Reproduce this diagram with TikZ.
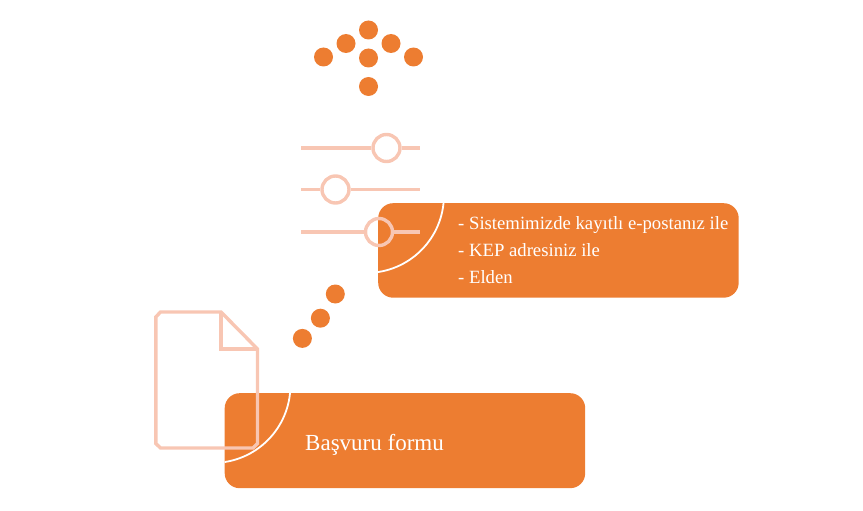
\documentclass[tikz,border=0pt]{standalone}
\usepackage{fontspec}
\setmainfont{Liberation Serif}
\definecolor{boxorange}{HTML}{ED7D31}
\definecolor{palepink}{HTML}{F8C6B3}
\tikzset{
  dotnode/.style={circle,fill=boxorange,inner sep=0pt,minimum size=19pt},
  boxnode/.style={rectangle,rounded corners=15pt,fill=boxorange,inner sep=0pt,anchor=north west},
  knobnode/.style={circle,draw=palepink,line width=3.4pt,inner sep=0pt,minimum size=27pt},
  paleline/.style={draw=palepink,line width=3.4pt},
  labelnode/.style={anchor=base west,inner sep=0pt,text=white,font=\fontsize{18.7}{20}\selectfont},
}
\begin{document}
\begin{tikzpicture}[x=1pt,y=-1pt]
\path[use as bounding box] (0,0) rectangle (863,511);
% top arrow
\node[dotnode] (a1) at (368.5,30) {};
\node[dotnode] (a2) at (346,43.5) {};
\node[dotnode] (a3) at (391,43.5) {};
\node[dotnode] (a4) at (323.5,57) {};
\node[dotnode] (a5) at (413.5,57) {};
\node[dotnode] (a6) at (368.5,58) {};
\node[dotnode] (a7) at (368.5,86.5) {};
% boxes
\node[boxnode,minimum width=360.5pt,minimum height=94.5pt] (boxb) at (378,203) {};
\node[boxnode,minimum width=360.5pt,minimum height=95pt] (boxa) at (224.5,393) {};
\begin{scope}
\clip (378,203) [rounded corners=15pt] rectangle (738.5,297.5);
\draw[white,line width=1.8pt] (366.5,195.5) circle[radius=77.4];
\end{scope}
\begin{scope}
\clip (224.5,393) [rounded corners=15pt] rectangle (585,488);
\draw[white,line width=1.8pt] (213,385.5) circle[radius=77.4];
\end{scope}
% sliders
\coordinate (s1l) at (301,148);
\coordinate (s1r) at (419.5,148);
\coordinate (s2l) at (301,189.5);
\coordinate (s2r) at (419.5,189.5);
\coordinate (s3l) at (301,232);
\coordinate (s3r) at (419.5,232);
\node[knobnode] (k1) at (386.5,148) {};
\node[knobnode] (k2) at (335.5,189.5) {};
\node[knobnode] (k3) at (379,232) {};
\draw[paleline] (s1l) -- (k1.west);
\draw[paleline] (k1.east) -- (s1r);
\draw[paleline] (s2l) -- (k2.west);
\draw[paleline] (k2.east) -- (s2r);
\draw[paleline] (s3l) -- (k3.west);
\draw[paleline] (k3.east) -- (s3r);
% three dots
\node[dotnode] (d1) at (335.3,294) {};
\node[dotnode] (d2) at (320.4,318.2) {};
\node[dotnode] (d3) at (302.4,338.4) {};
% page
\draw[paleline,line join=miter] (155.8,317)--(160.5,312)--(221,312)--(257.5,349)--(257.5,443.5)--(253,448)--(160.5,448)--(155.8,443.5)--cycle;
\draw[paleline] (221,312)--(221,349)--(257.5,349);
% texts
\node[labelnode] (t1) at (458,229) {- Sistemimizde kayıtlı e-postanız ile};
\node[labelnode] (t2) at (458,256) {- KEP adresiniz ile};
\node[labelnode] (t3) at (458,283) {- Elden};
\node[labelnode,font=\fontsize{23}{25}\selectfont] (t4) at (305,450) {Başvuru formu};
\end{tikzpicture}
\end{document}
